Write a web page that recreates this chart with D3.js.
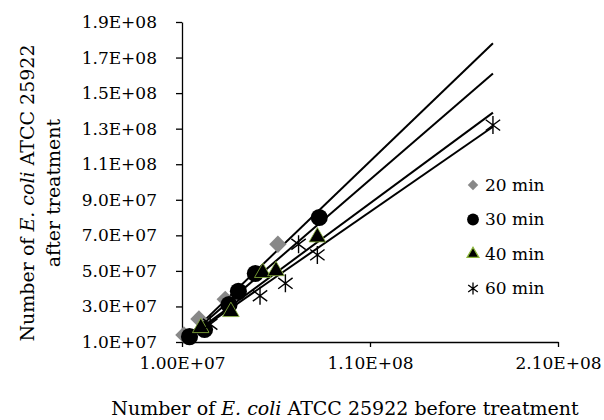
<!DOCTYPE html>
<html>
<head>
<meta charset="utf-8">
<script src="https://cdn.jsdelivr.net/npm/d3@7"></script>
<style>
	body { margin: 0; background: #fff; }
	svg text { font-family: "DejaVu Serif", serif; fill: #000; }
</style>
</head>
<body>
<svg id="chart" width="604" height="420"></svg>
<script>
// values (cells counts)
var seriesNames = ["20 min", "30 min", "40 min", "60 min"];

var before20 = [1.1e7, 1.9e7, 3.3e7, 6.1e7];
var after20 = [1.4e7, 2.3e7, 3.4e7, 6.5e7];

var before30 = [1.4e7, 2.2e7, 3.5e7, 4.0e7, 4.9e7, 8.3e7];
var after30 = [1.3e7, 1.7e7, 3.1e7, 3.85e7, 4.85e7, 8.0e7];

var before40 = [2.0e7, 3.6e7, 5.3e7, 6.0e7, 8.2e7];
var after40 = [1.8e7, 2.7e7, 4.9e7, 5.0e7, 6.9e7];

var before60 = [2.5e7, 5.15e7, 6.5e7, 7.2e7, 8.2e7, 1.754e8];
var after60 = [2.0e7, 3.6e7, 4.3e7, 6.5e7, 5.9e7, 1.32e8];

// linear trend lines (slope, intercept) and the x span they cover
var trendSlope = [1.016, 0.913, 0.78, 0.732];
var trendIntercept = [-1.6e5, 8.7e5, 2.2e6, 2.7e6];
var trendFrom = 1.05e7, trendTo = 1.754e8;

var xTicks = [1e7, 1.1e8, 2.1e8];
var yTicks = [1e7, 3e7, 5e7, 7e7, 9e7, 1.1e8, 1.3e8, 1.5e8, 1.7e8, 1.9e8];

var svg = d3.select("#chart");

var x = d3.scaleLinear().domain([1e7, 2.1e8]).range([182, 558]);
var y = d3.scaleLinear().domain([1e7, 1.9e8]).range([342, 22]);

function sci(v, digits) {
	var parts = v.toExponential(digits).split("e");
	var e = parts[1];
	return parts[0] + "E" + e[0] + e.slice(1).padStart(2, "0");
}

// axes
var xAxis = svg.append("g")
	.attr("transform", "translate(0," + y.range()[0] + ")")
	.call(d3.axisBottom(x).tickValues(xTicks).tickSize(5).tickSizeOuter(0).tickPadding(10)
		.tickFormat(function (d) { return sci(d, 2); }));

var yAxis = svg.append("g")
	.attr("transform", "translate(" + x.range()[0] + ",0)")
	.call(d3.axisLeft(y).tickValues(yTicks).tickSize(6).tickSizeOuter(0).tickPadding(19)
		.tickFormat(function (d) { return sci(d, 1); }));

svg.selectAll(".domain, .tick line").attr("stroke", "#000").attr("stroke-width", 1.3);
svg.selectAll(".tick text").style("font-size", "17px").style("font-family", "DejaVu Serif");

// axis titles
var xt = svg.append("text")
	.attr("x", 345).attr("y", 415)
	.attr("text-anchor", "middle")
	.style("font-size", "19px");
xt.append("tspan").text("Number of ");
xt.append("tspan").style("font-style", "italic").text("E. coli");
xt.append("tspan").text(" ATCC 25922 before treatment");

var yt1 = svg.append("text")
	.attr("transform", "translate(34,193) rotate(-90)")
	.attr("text-anchor", "middle")
	.style("font-size", "19px");
yt1.append("tspan").text("Number of ");
yt1.append("tspan").style("font-style", "italic").text("E. coli");
yt1.append("tspan").text(" ATCC 25922");

svg.append("text")
	.attr("transform", "translate(60,193) rotate(-90)")
	.attr("text-anchor", "middle")
	.style("font-size", "19px")
	.text("after treatment");

// trend lines
var trends = seriesNames.map(function (name, i) {
	return [trendFrom, trendTo].map(function (v) {
		return [v, trendSlope[i] * v + trendIntercept[i]];
	});
});

var line = d3.line()
	.x(function (d) { return x(d[0]); })
	.y(function (d) { return y(d[1]); });

svg.append("g")
	.attr("class", "trends")
	.selectAll("path")
	.data(trends)
	.enter().append("path")
	.attr("d", line)
	.attr("fill", "none")
	.attr("stroke", "#000")
	.attr("stroke-width", 2);

// markers
function starPath(r) {
	var a = r * 0.8;
	return "M0," + (-r) + "L0," + r +
		"M" + (-a) + "," + (-a * 0.75) + "L" + a + "," + (a * 0.75) +
		"M" + (-a) + "," + (a * 0.75) + "L" + a + "," + (-a * 0.75);
}

var styles = [
	{ path: d3.symbol().type(d3.symbolSquare).size(150)(), rotate: 45, fill: "#888888", stroke: "none", sw: 0 },
	{ path: d3.symbol().type(d3.symbolCircle).size(230)(), rotate: 0, fill: "#000", stroke: "none", sw: 0 },
	{ path: d3.symbol().type(d3.symbolTriangle).size(120)(), rotate: 0, fill: "#000", stroke: "#8db83d", sw: 0.8 },
	{ path: starPath(9), rotate: 0, fill: "none", stroke: "#000", sw: 1.4 }
];
var legendStyles = [
	{ path: d3.symbol().type(d3.symbolSquare).size(55)(), rotate: 45 },
	{ path: d3.symbol().type(d3.symbolCircle).size(110)(), rotate: 0 },
	{ path: d3.symbol().type(d3.symbolTriangle).size(60)(), rotate: 0 },
	{ path: starPath(6), rotate: 0 }
];

var series = [
	d3.zip(before20, after20),
	d3.zip(before30, after30),
	d3.zip(before40, after40),
	d3.zip(before60, after60)
];

series.forEach(function (pts, i) {
	var st = styles[i];
	svg.append("g")
		.attr("class", "series")
		.selectAll("path")
		.data(pts)
		.enter().append("path")
		.attr("d", st.path)
		.attr("transform", function (d) {
			return "translate(" + x(d[0]) + "," + y(d[1]) + ") rotate(" + st.rotate + ")";
		})
		.attr("fill", st.fill)
		.attr("stroke", st.stroke)
		.attr("stroke-width", st.sw);
});

// legend
var legend = svg.append("g").attr("transform", "translate(473,185)");
var rows = legend.selectAll("g")
	.data(seriesNames)
	.enter().append("g")
	.attr("transform", function (d, i) { return "translate(0," + (i * 34.5) + ")"; });

rows.append("path")
	.attr("d", function (d, i) { return legendStyles[i].path; })
	.attr("transform", function (d, i) { return "rotate(" + legendStyles[i].rotate + ")"; })
	.attr("fill", function (d, i) { return styles[i].fill; })
	.attr("stroke", function (d, i) { return styles[i].stroke; })
	.attr("stroke-width", 1.3);

rows.append("text")
	.attr("x", 12)
	.attr("dy", "0.35em")
	.style("font-size", "17px")
	.text(function (d) { return d; });
</script>
</body>
</html>
